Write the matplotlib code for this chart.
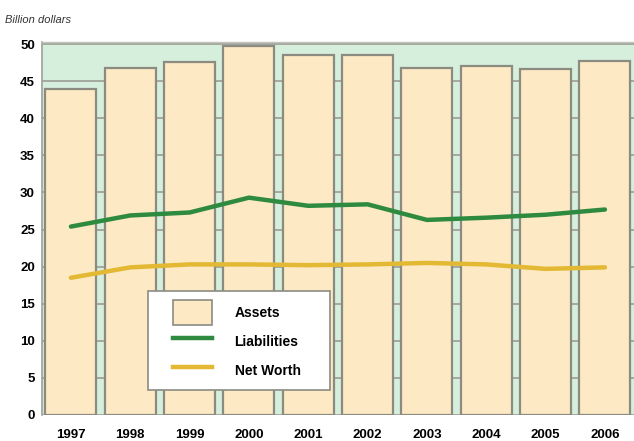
import matplotlib.pyplot as plt
import numpy as np
from matplotlib.patches import Patch, Rectangle
from matplotlib.lines import Line2D

plt.rcParams['font.family'] = ['Liberation Sans', 'DejaVu Sans']

# data (billion dollars)
years = ['1997', '1998', '1999', '2000', '2001', '2002', '2003', '2004', '2005', '2006']
assets = [44.0, 46.8, 47.6, 49.7, 48.5, 48.6, 46.8, 47.1, 46.6, 47.7]
liabilities = [25.4, 26.9, 27.3, 29.3, 28.2, 28.4, 26.3, 26.6, 27.0, 27.7]
net_worth = [18.5, 19.9, 20.3, 20.3, 20.2, 20.3, 20.5, 20.3, 19.7, 19.9]
y_ticks = [0, 5, 10, 15, 20, 25, 30, 35, 40, 45, 50]

bg = '#d6eedc'
bar_col = '#fde9c3'
edge = '#8c8b82'
green = '#2e8a3f'
yellow = '#e3b934'

fig = plt.figure(figsize=(6.34, 4.41), dpi=100)
ax = fig.add_axes([0.066, 0.059, 0.934, 0.846])
ax.set_facecolor(bg)

x = np.arange(len(years))
ax.bar(x, assets, width=0.86, color=bar_col, edgecolor=edge, linewidth=1.6, zorder=2)
ax.plot(x, liabilities, color=green, linewidth=3.2, solid_capstyle='round', zorder=3)
ax.plot(x, net_worth, color=yellow, linewidth=3.2, solid_capstyle='round', zorder=3)

ax.set_xlim(-0.49, 9.49)
ax.set_ylim(0, 50.3)
ax.set_yticks(y_ticks)
ax.set_yticklabels([str(v) for v in y_ticks], fontsize=9.5, fontweight='bold')
ax.set_xticks(x)
ax.set_xticklabels(years, fontsize=9.5, fontweight='bold')
ax.tick_params(axis='y', length=0, pad=5)
ax.tick_params(axis='x', length=0, pad=10)
ax.yaxis.grid(True, color='#9c9c94', linewidth=1.2, zorder=0)
ax.set_axisbelow(True)

for s in ['right', 'bottom']:
    ax.spines[s].set_visible(False)
ax.spines['left'].set_color('#a0a09a')
ax.spines['top'].set_color('#c4c4be')
ax.spines['left'].set_linewidth(1.2)
ax.spines['top'].set_linewidth(1.0)

fig.text(0.008, 0.947, 'Billion dollars', fontsize=8, style='italic', color='#333333')

# legend: white box drawn separately, entries placed inside
ax.add_patch(Rectangle((0.179, 0.067), 0.307, 0.265, transform=ax.transAxes,
                       facecolor='white', edgecolor='#8c8b82', linewidth=1.2, zorder=4))
handles = [Patch(facecolor=bar_col, edgecolor=edge, linewidth=1.2),
           Line2D([0], [0], color=green, linewidth=3.2),
           Line2D([0], [0], color=yellow, linewidth=3.2)]
leg = ax.legend(handles, ['Assets', 'Liabilities', 'Net Worth'],
                loc='lower left', bbox_to_anchor=(0.221, 0.085),
                fontsize=10, frameon=False,
                handlelength=2.8, handleheight=2.39, handletextpad=1.65,
                borderpad=0, labelspacing=0.3, borderaxespad=0)
leg.set_zorder(5)
for t in leg.get_texts():
    t.set_fontweight('bold')

fig.savefig('out.png', dpi=100)
